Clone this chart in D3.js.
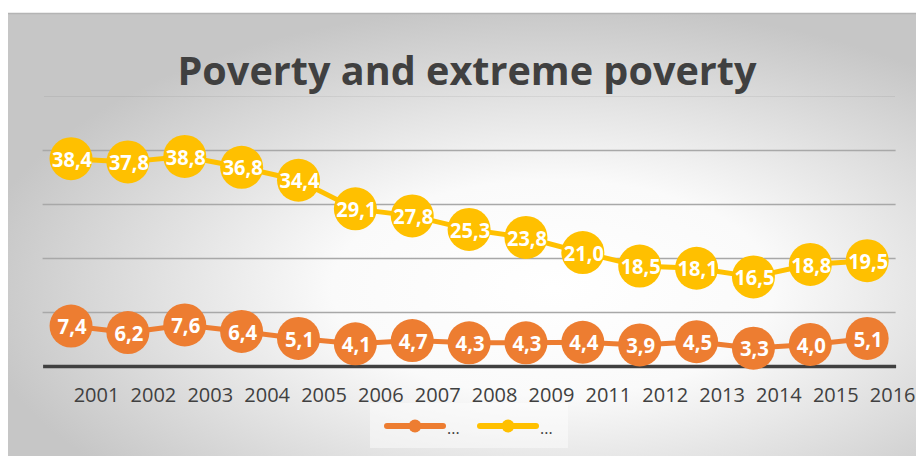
<!DOCTYPE html>
<html>
<head>
<meta charset="utf-8">
<script src="https://cdn.jsdelivr.net/npm/d3@7"></script>
<style>
  html, body { margin: 0; padding: 0; background: #fff; }
  svg { display: block; font-family: "Open Sans", sans-serif; }
</style>
</head>
<body>
<script>
// data
var years = ['2001', '2002', '2003', '2004', '2005', '2006', '2007', '2008', '2009',
             '2011', '2012', '2013', '2014', '2015', '2016'];
var poverty = [38.4, 37.8, 38.8, 36.8, 34.4, 29.1, 27.8, 25.3, 23.8, 21.0, 18.5, 18.1, 16.5, 18.8, 19.5];
var extreme = [7.4, 6.2, 7.6, 6.4, 5.1, 4.1, 4.7, 4.3, 4.3, 4.4, 3.9, 4.5, 3.3, 4.0, 5.1];
var gridTicks = [10, 20, 30, 40];

var W = 916, H = 456;
var svg = d3.select('body').append('svg')
    .attr('width', W)
    .attr('height', H);

// background: radial grey -> white
var grad = svg.append('defs').append('radialGradient')
    .attr('id', 'bg')
    .attr('cx', '0.6').attr('cy', '0.62')
    .attr('r', '0.64')
    .attr('fx', '0.6').attr('fy', '0.62');
grad.append('stop').attr('offset', '0').attr('stop-color', '#ffffff');
grad.append('stop').attr('offset', '0.38').attr('stop-color', '#fafafa');
grad.append('stop').attr('offset', '1').attr('stop-color', '#c6c6c6');

svg.append('rect')
    .attr('x', 8).attr('y', 13)
    .attr('width', W - 8).attr('height', H - 13)
    .attr('fill', 'url(#bg)');
svg.append('line')
    .attr('x1', 8).attr('x2', W)
    .attr('y1', 13.5).attr('y2', 13.5)
    .attr('stroke', '#b4b4b4')
    .attr('stroke-width', 1.5);

// title
svg.append('text')
    .attr('x', 467).attr('y', 85)
    .attr('text-anchor', 'middle')
    .attr('font-size', 40)
    .attr('font-weight', 'bold')
    .attr('fill', '#404040')
    .attr('textLength', 579)
    .attr('lengthAdjust', 'spacingAndGlyphs')
    .text('Poverty and extreme poverty');
svg.append('line')
    .attr('x1', 44).attr('x2', 895)
    .attr('y1', 96.5).attr('y2', 96.5)
    .attr('stroke', '#000')
    .attr('stroke-opacity', 0.06);

// scales
var x = d3.scalePoint()
    .domain(years)
    .range([42.6, 895.6])
    .padding(0.5);
var y = d3.scaleLinear()
    .domain([0, 40])
    .range([366, 150]);

// gridlines
var grid = svg.append('g')
    .attr('transform', 'translate(42.6,0)')
    .call(d3.axisLeft(y).tickValues(gridTicks).tickSize(-853).tickFormat(''));
grid.select('.domain').remove();
grid.selectAll('line')
    .attr('stroke', '#a8a8a8')
    .attr('stroke-width', 1.3);

// x axis
var xAxis = svg.append('g')
    .attr('transform', 'translate(0,366)')
    .call(d3.axisBottom(x).tickSize(0).tickPadding(22));
xAxis.select('.domain')
    .attr('stroke', '#404040')
    .attr('stroke-width', 3.5);
xAxis.selectAll('text')
    .attr('dx', 25)
    .attr('font-size', 20)
    .attr('font-family', '"Open Sans", sans-serif')
    .attr('fill', '#404040');

var fmt = function(v) { return d3.format('.1f')(v).replace('.', ','); };

function drawSeries(values, color) {
    var line = d3.line()
        .x(function(d, i) { return x(years[i]); })
        .y(function(d) { return y(d); });
    var g = svg.append('g');
    g.append('path')
        .datum(values)
        .attr('d', line)
        .attr('fill', 'none')
        .attr('stroke', color)
        .attr('stroke-width', 5)
        .attr('stroke-linejoin', 'round');
    g.selectAll('circle')
        .data(values)
        .enter().append('circle')
        .attr('cx', function(d, i) { return x(years[i]); })
        .attr('cy', function(d) { return y(d); })
        .attr('r', 21.5)
        .attr('fill', color);
    // narrow bold labels, like the original's Calibri
    g.selectAll('text')
        .data(values)
        .enter().append('text')
        .attr('x', function(d, i) { return x(years[i]) + 1; })
        .attr('y', function(d) { return y(d); })
        .attr('dy', '0.37em')
        .attr('text-anchor', 'middle')
        .attr('font-size', 22)
        .attr('font-weight', 'bold')
        .attr('fill', '#fff')
        .attr('textLength', function(d) { return (fmt(d).length - 1) * 11 + 7; })
        .attr('lengthAdjust', 'spacingAndGlyphs')
        .text(fmt);
}

drawSeries(poverty, '#FFC000');
drawSeries(extreme, '#ED7D31');

// legend
var legend = svg.append('g');
legend.append('rect')
    .attr('x', 370).attr('y', 403)
    .attr('width', 198).attr('height', 45)
    .attr('fill', '#fff')
    .attr('fill-opacity', 0.45);
var items = [{ color: '#ED7D31', x0: 387 }, { color: '#FFC000', x0: 480 }];
items.forEach(function(it) {
    legend.append('line')
        .attr('x1', it.x0).attr('x2', it.x0 + 56)
        .attr('y1', 426).attr('y2', 426)
        .attr('stroke', it.color)
        .attr('stroke-width', 6)
        .attr('stroke-linecap', 'round');
    legend.append('circle')
        .attr('cx', it.x0 + 28).attr('cy', 426)
        .attr('r', 6.5)
        .attr('fill', it.color);
    legend.append('text')
        .attr('x', it.x0 + 60).attr('y', 434)
        .attr('font-size', 16)
        .attr('fill', '#404040')
        .text('...');
});
</script>
</body>
</html>
